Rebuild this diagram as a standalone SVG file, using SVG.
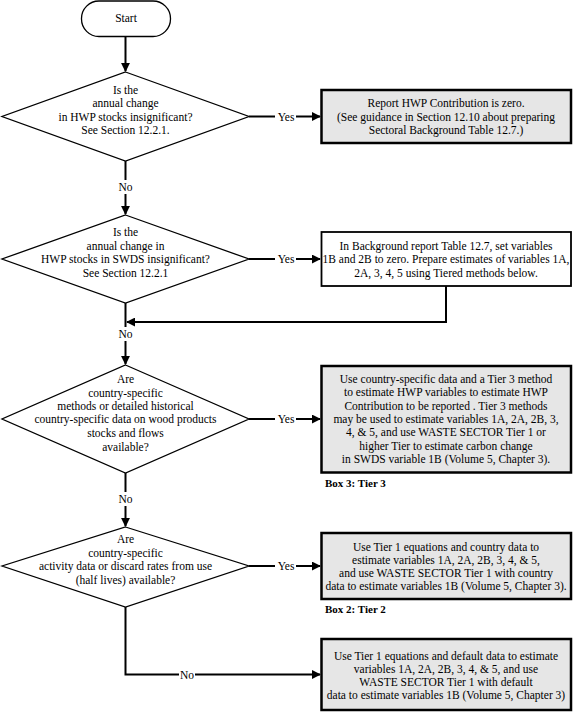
<svg xmlns="http://www.w3.org/2000/svg" width="573" height="712" viewBox="0 0 573 712">
<style>
text{font-family:"Liberation Serif","Times New Roman",serif;font-size:11.5px;fill:#000;text-anchor:middle}
.lbl{text-anchor:start;font-weight:bold;font-size:11px}
.dia{fill:#fff;stroke:#000;stroke-width:1.3}
.gbox{fill:#e6e6e6;stroke:#000;stroke-width:2.5}
.wbox{fill:#fff;stroke:#000;stroke-width:1.8}
.con{fill:none;stroke:#000;stroke-width:2}
</style>
<defs>
<marker id="ah" viewBox="0 0 10 10" refX="9" refY="5" markerWidth="9" markerHeight="9" markerUnits="userSpaceOnUse" orient="auto">
<path d="M0,0 L10,5 L0,10 z" fill="#000"/>
</marker>
</defs>
<rect width="573" height="712" fill="#fff"/>
<g id="connectors">
<line class="con" x1="125.5" y1="37" x2="125.5" y2="71" marker-end="url(#ah)"/>
<line class="con" x1="249" y1="116.5" x2="275" y2="116.5"/>
<line class="con" x1="296" y1="116.5" x2="320" y2="116.5" marker-end="url(#ah)"/>
<line class="con" x1="125.5" y1="161" x2="125.5" y2="180"/>
<line class="con" x1="125.5" y1="194" x2="125.5" y2="214" marker-end="url(#ah)"/>
<line class="con" x1="249" y1="259" x2="275" y2="259"/>
<line class="con" x1="296" y1="259" x2="320" y2="259" marker-end="url(#ah)"/>
<polyline class="con" points="446,286 446,322 127,322" marker-end="url(#ah)"/>
<line class="con" x1="125.5" y1="303" x2="125.5" y2="327"/>
<line class="con" x1="125.5" y1="341" x2="125.5" y2="364" marker-end="url(#ah)"/>
<line class="con" x1="249" y1="419" x2="275" y2="419"/>
<line class="con" x1="296" y1="419" x2="320" y2="419" marker-end="url(#ah)"/>
<line class="con" x1="125.5" y1="473" x2="125.5" y2="492"/>
<line class="con" x1="125.5" y1="506" x2="125.5" y2="526" marker-end="url(#ah)"/>
<line class="con" x1="249" y1="566" x2="275" y2="566"/>
<line class="con" x1="296" y1="566" x2="320" y2="566" marker-end="url(#ah)"/>
<polyline class="con" points="125.5,607 125.5,674.5 179,674.5"/>
<line class="con" x1="195" y1="674.5" x2="320" y2="674.5" marker-end="url(#ah)"/>
<text x="286" y="120.5">Yes</text>
<text x="125.5" y="191">No</text>
<text x="286" y="263">Yes</text>
<text x="125.5" y="338">No</text>
<text x="286" y="423">Yes</text>
<text x="125.5" y="503">No</text>
<text x="286" y="570">Yes</text>
<text x="187" y="678.5">No</text>
</g>
<g id="start">
<rect x="81.5" y="1" width="89" height="35.5" rx="17.5" ry="17.5" fill="#fff" stroke="#000" stroke-width="1.3"/>
<text x="126" y="22">Start</text>
</g>
<g id="q1">
<polygon class="dia" points="125.5,72 249,116.5 125.5,161 2,116.5"/>
<text x="125.5" y="94">Is the</text>
<text x="125.5" y="107">annual change</text>
<text x="125.5" y="120.5">in HWP stocks insignificant?</text>
<text x="125.5" y="134">See Section 12.2.1.</text>
</g>
<g id="box1">
<rect class="gbox" x="321.5" y="90" width="249.5" height="53"/>
<text x="446" y="107">Report HWP Contribution is zero.</text>
<text x="446" y="120.5">(See guidance in Section 12.10 about preparing</text>
<text x="446" y="134">Sectoral Background Table 12.7.)</text>
</g>
<g id="q2">
<polygon class="dia" points="125.5,215 249,259 125.5,303 2,259"/>
<text x="125.5" y="236">Is the</text>
<text x="125.5" y="250">annual change in</text>
<text x="125.5" y="263">HWP stocks in SWDS insignificant?</text>
<text x="125.5" y="277">See Section 12.2.1</text>
</g>
<g id="box2">
<rect class="wbox" x="321.5" y="232" width="249.5" height="54"/>
<text x="446" y="250">In Background report Table 12.7, set variables</text>
<text x="446" y="263">1B and 2B to zero. Prepare estimates of variables 1A,</text>
<text x="446" y="276.5">2A, 3, 4, 5 using Tiered methods below.</text>
</g>
<g id="q3">
<polygon class="dia" points="125.5,365 249,419 125.5,473 2,419"/>
<text x="125.5" y="383">Are</text>
<text x="125.5" y="397">country-specific</text>
<text x="125.5" y="410">methods or detailed historical</text>
<text x="125.5" y="423">country-specific data on wood products</text>
<text x="125.5" y="437">stocks and flows</text>
<text x="125.5" y="451">available?</text>
</g>
<g id="box3">
<rect class="gbox" x="321.5" y="366" width="249.5" height="106.5"/>
<text x="446" y="383">Use country-specific data and a Tier 3 method</text>
<text x="446" y="396.3">to estimate HWP variables to estimate HWP</text>
<text x="446" y="409.6">Contribution to be reported . Tier 3 methods</text>
<text x="446" y="422.9">may be used to estimate variables 1A, 2A, 2B, 3,</text>
<text x="446" y="436.2">4, &amp; 5, and use WASTE SECTOR Tier 1 or</text>
<text x="446" y="449.5">higher Tier to estimate carbon change</text>
<text x="446" y="462.8">in SWDS variable 1B (Volume 5, Chapter 3).</text>
<text class="lbl" x="325" y="487">Box 3: Tier 3</text>
</g>
<g id="q4">
<polygon class="dia" points="125.5,527 249,566 125.5,607 2,566"/>
<text x="125.5" y="543">Are</text>
<text x="125.5" y="557">country-specific</text>
<text x="125.5" y="570">activity data or discard rates from use</text>
<text x="125.5" y="584">(half lives) available?</text>
</g>
<g id="box4">
<rect class="gbox" x="321.5" y="533" width="249.5" height="66"/>
<text x="446" y="550.5">Use Tier 1 equations and country data to</text>
<text x="446" y="563.5">estimate variables 1A, 2A, 2B, 3, 4, &amp; 5,</text>
<text x="446" y="576.5">and use WASTE SECTOR Tier 1 with country</text>
<text x="446" y="589.5">data to estimate variables 1B (Volume 5, Chapter 3).</text>
<text class="lbl" x="325" y="613">Box 2: Tier 2</text>
</g>
<g id="box5">
<rect class="gbox" x="321.5" y="639" width="249.5" height="71"/>
<text x="446" y="659.5">Use Tier 1 equations and default data to estimate</text>
<text x="446" y="672.5">variables 1A, 2A, 2B, 3, 4, &amp; 5, and use</text>
<text x="446" y="685.5">WASTE SECTOR Tier 1 with default</text>
<text x="446" y="698.5">data to estimate variables 1B (Volume 5, Chapter 3)</text>
</g>
</svg>
